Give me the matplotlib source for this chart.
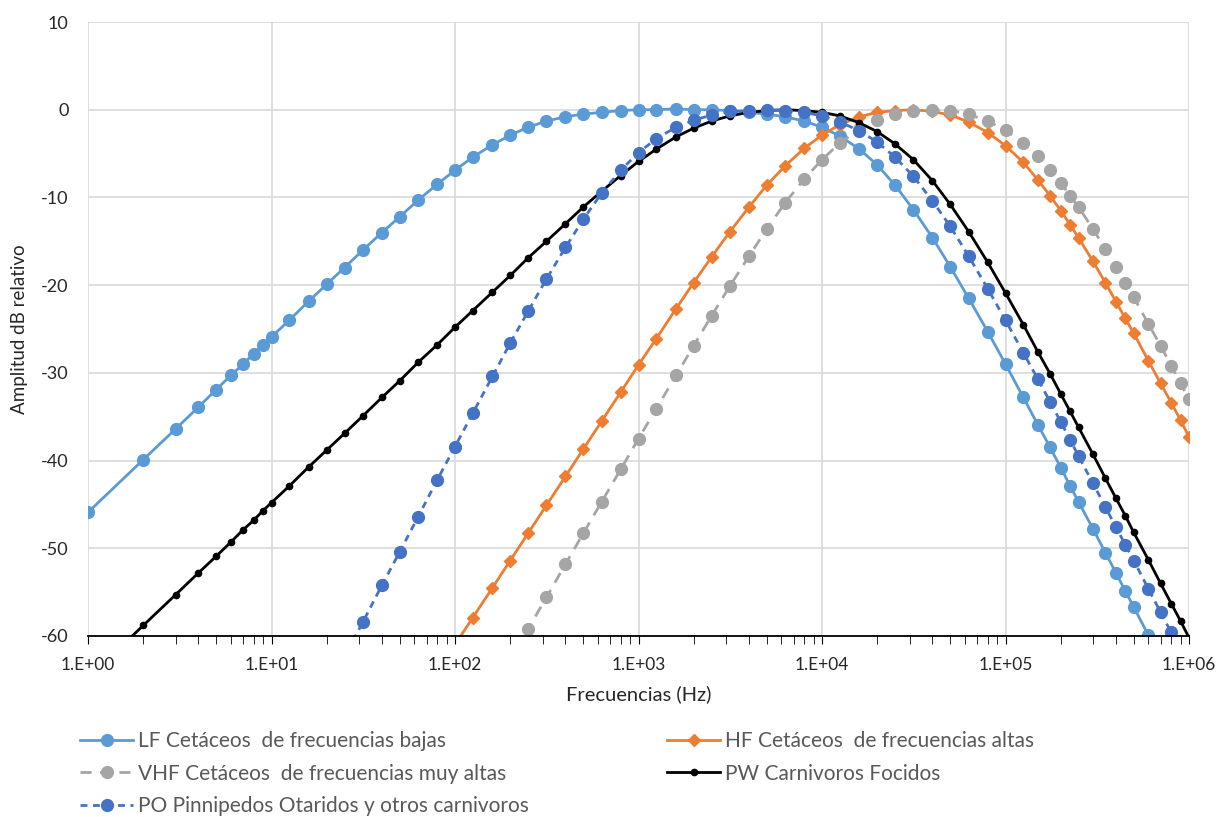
import numpy as np
import matplotlib
matplotlib.use("Agg")
import matplotlib.pyplot as plt
from matplotlib.ticker import FixedLocator, FuncFormatter, LogLocator, NullFormatter

plt.rcParams['font.family'] = ['Lato', 'DejaVu Sans']
plt.rcParams['axes.unicode_minus'] = False

# Frequencies (Hz)
freq = [1, 2, 3, 4, 5, 6, 7, 8, 9,
        10, 12.5, 16, 20, 25, 31.5, 40, 50, 63, 80,
        100, 125, 160, 200, 250, 315, 400, 500, 630, 800,
        1000, 1250, 1600, 2000, 2500, 3150, 4000, 5000, 6300, 8000,
        10000, 12500, 16000, 20000, 25000, 31500, 40000, 50000, 63000, 80000,
        100000, 125000, 150000, 175000, 200000, 225000, 250000, 300000, 350000,
        400000, 450000, 500000, 600000, 700000, 800000, 900000, 1000000]

lf = [-45.9, -39.9, -36.4, -33.9, -31.9, -30.3, -29.0, -27.8, -26.8,
      -25.9, -24.0, -21.8, -19.9, -18.0, -16.0, -14.0, -12.2, -10.3, -8.5,
      -6.9, -5.4, -4.0, -2.9, -2.0, -1.3, -0.8, -0.5, -0.3, -0.1,
      0.0, 0.0, 0.1, 0.0, 0.0, -0.1, -0.3, -0.5, -0.8, -1.3,
      -2.0, -3.0, -4.5, -6.3, -8.6, -11.4, -14.6, -17.9, -21.5, -25.3,
      -29.0, -32.8, -35.9, -38.5, -40.8, -42.9, -44.7, -47.8, -50.5,
      -52.8, -54.9, -56.7, -59.9, -62.5, -64.9, -66.9, -68.7]

hf = [-125.0, -115.4, -109.8, -105.8, -102.7, -100.1, -98.0, -96.1, -94.5,
      -93.0, -89.9, -86.5, -83.4, -80.3, -77.1, -73.8, -70.7, -67.5, -64.1,
      -61.0, -57.9, -54.5, -51.4, -48.3, -45.1, -41.8, -38.7, -35.5, -32.2,
      -29.1, -26.1, -22.7, -19.7, -16.8, -13.9, -11.1, -8.6, -6.4, -4.4,
      -2.9, -1.7, -0.8, -0.3, -0.1, 0.0, -0.2, -0.6, -1.4, -2.6,
      -4.1, -6.0, -8.0, -9.8, -11.5, -13.1, -14.6, -17.3, -19.7,
      -21.9, -23.8, -25.5, -28.6, -31.2, -33.4, -35.4, -37.3]

vhf = [-145.5, -134.7, -128.3, -123.8, -120.3, -117.5, -115.1, -113.0, -111.1,
       -109.5, -106.0, -102.1, -98.7, -95.2, -91.6, -87.8, -84.3, -80.7, -77.0,
       -73.5, -70.0, -66.1, -62.7, -59.2, -55.6, -51.8, -48.3, -44.7, -41.0,
       -37.5, -34.1, -30.3, -26.9, -23.5, -20.1, -16.7, -13.6, -10.6, -7.9,
       -5.7, -3.8, -2.2, -1.2, -0.5, -0.1, 0.0, -0.1, -0.5, -1.3,
       -2.3, -3.8, -5.3, -6.9, -8.3, -9.8, -11.1, -13.6, -15.9,
       -17.9, -19.7, -21.4, -24.4, -26.9, -29.2, -31.2, -33.0]

pw = [-64.8, -58.8, -55.3, -52.8, -50.9, -49.3, -47.9, -46.8, -45.7,
      -44.8, -42.9, -40.7, -38.8, -36.9, -34.9, -32.8, -30.9, -28.8, -26.8,
      -24.8, -22.9, -20.8, -18.9, -16.9, -15.0, -13.0, -11.1, -9.3, -7.5,
      -5.9, -4.5, -3.1, -2.1, -1.3, -0.7, -0.3, -0.1, 0.0, -0.1,
      -0.3, -0.7, -1.5, -2.5, -3.9, -5.7, -8.1, -10.8, -13.9, -17.4,
      -20.9, -24.5, -27.6, -30.1, -32.4, -34.4, -36.2, -39.3, -42.0,
      -44.3, -46.3, -48.2, -51.3, -54.0, -56.3, -58.3, -60.2]

po = [-118.3, -106.2, -99.2, -94.2, -90.3, -87.2, -84.5, -82.2, -80.1,
      -78.3, -74.4, -70.1, -66.3, -62.4, -58.4, -54.2, -50.4, -46.4, -42.2,
      -38.4, -34.6, -30.4, -26.6, -23.0, -19.3, -15.7, -12.5, -9.5, -6.9,
      -4.9, -3.3, -2.0, -1.2, -0.6, -0.2, -0.1, 0.0, -0.1, -0.3,
      -0.7, -1.4, -2.4, -3.7, -5.4, -7.6, -10.4, -13.3, -16.7, -20.4,
      -24.0, -27.7, -30.7, -33.3, -35.6, -37.6, -39.5, -42.6, -45.3,
      -47.6, -49.6, -51.4, -54.6, -57.3, -59.6, -61.6, -63.5]

labels = ["LF Cetáceos  de frecuencias bajas",
          "HF Cetáceos  de frecuencias altas",
          "VHF Cetáceos  de frecuencias muy altas",
          "PW Carnivoros Focidos",
          "PO Pinnipedos Otaridos y otros carnivoros"]

yticks = [10, 0, -10, -20, -30, -40, -50, -60]

fig = plt.figure(figsize=(12.25, 8.17), dpi=100)
ax = fig.add_axes([88/1225, 1-636/817, (1189-88)/1225, (636-22)/817])

h_lf, = ax.plot(freq, lf, color='#5B9BD5', lw=2.0, marker='o', ms=8.5,
                label=labels[0])
h_hf, = ax.plot(freq, hf, color='#ED7D31', lw=2.0, marker='D', ms=6,
                label=labels[1])
h_vhf, = ax.plot(freq, vhf, color='#A5A5A5', lw=2.0, ls=(0, (4, 3)), marker='o',
                 ms=8.5, label=labels[2])
h_pw, = ax.plot(freq, pw, color='black', lw=2.0, marker='o', ms=4.5,
                label=labels[3])
h_po, = ax.plot(freq, po, color='#4472C4', lw=2.0, ls=(0, (2.5, 2)), marker='o',
                ms=8.5, label=labels[4])

ax.set_xscale('log')
ax.set_xlim(1, 1e6)
ax.set_ylim(-60, 10)
ax.set_yticks(yticks)
ax.xaxis.set_major_locator(FixedLocator([10.0**k for k in range(7)]))
ax.xaxis.set_major_formatter(FuncFormatter(lambda v, p: "1.E+%02d" % int(round(np.log10(v)))))
ax.xaxis.set_minor_locator(LogLocator(base=10, subs=np.arange(2, 10), numticks=20))
ax.xaxis.set_minor_formatter(NullFormatter())

ax.grid(True, which='major', color='#D9D9D9', lw=1.2)
ax.set_axisbelow(True)
for s in ['top', 'right', 'left']:
    ax.spines[s].set_visible(False)
ax.spines['bottom'].set_color('black')
ax.spines['bottom'].set_linewidth(1.3)
ax.tick_params(axis='y', length=0, labelsize=13, colors='#262626', pad=14)
ax.tick_params(axis='x', which='major', length=6, direction='out', labelsize=12.5,
               labelcolor='#262626', color='black', pad=9)
ax.tick_params(axis='x', which='minor', length=6, direction='out', color='black')

ax.set_xlabel("Frecuencias (Hz)", fontsize=14.5, color='#262626', labelpad=9)
ax.set_ylabel("Amplitud dB relativo", fontsize=13.5, color='#262626', labelpad=9)

leg_kw = dict(loc='upper left', frameon=False, fontsize=15, handlelength=2.55,
              handletextpad=0.25, labelspacing=0.6, borderpad=0, borderaxespad=0)
leg1 = fig.legend([h_lf, h_vhf, h_po], [labels[0], labels[2], labels[4]],
                  bbox_to_anchor=(80/1225, 1-731/817), **leg_kw)
leg2 = fig.legend([h_hf, h_pw], [labels[1], labels[3]],
                  bbox_to_anchor=(667/1225, 1-731/817), **leg_kw)
for lg in (leg1, leg2):
    for t in lg.get_texts():
        t.set_color('#595959')

fig.savefig("out.png", dpi=100)
